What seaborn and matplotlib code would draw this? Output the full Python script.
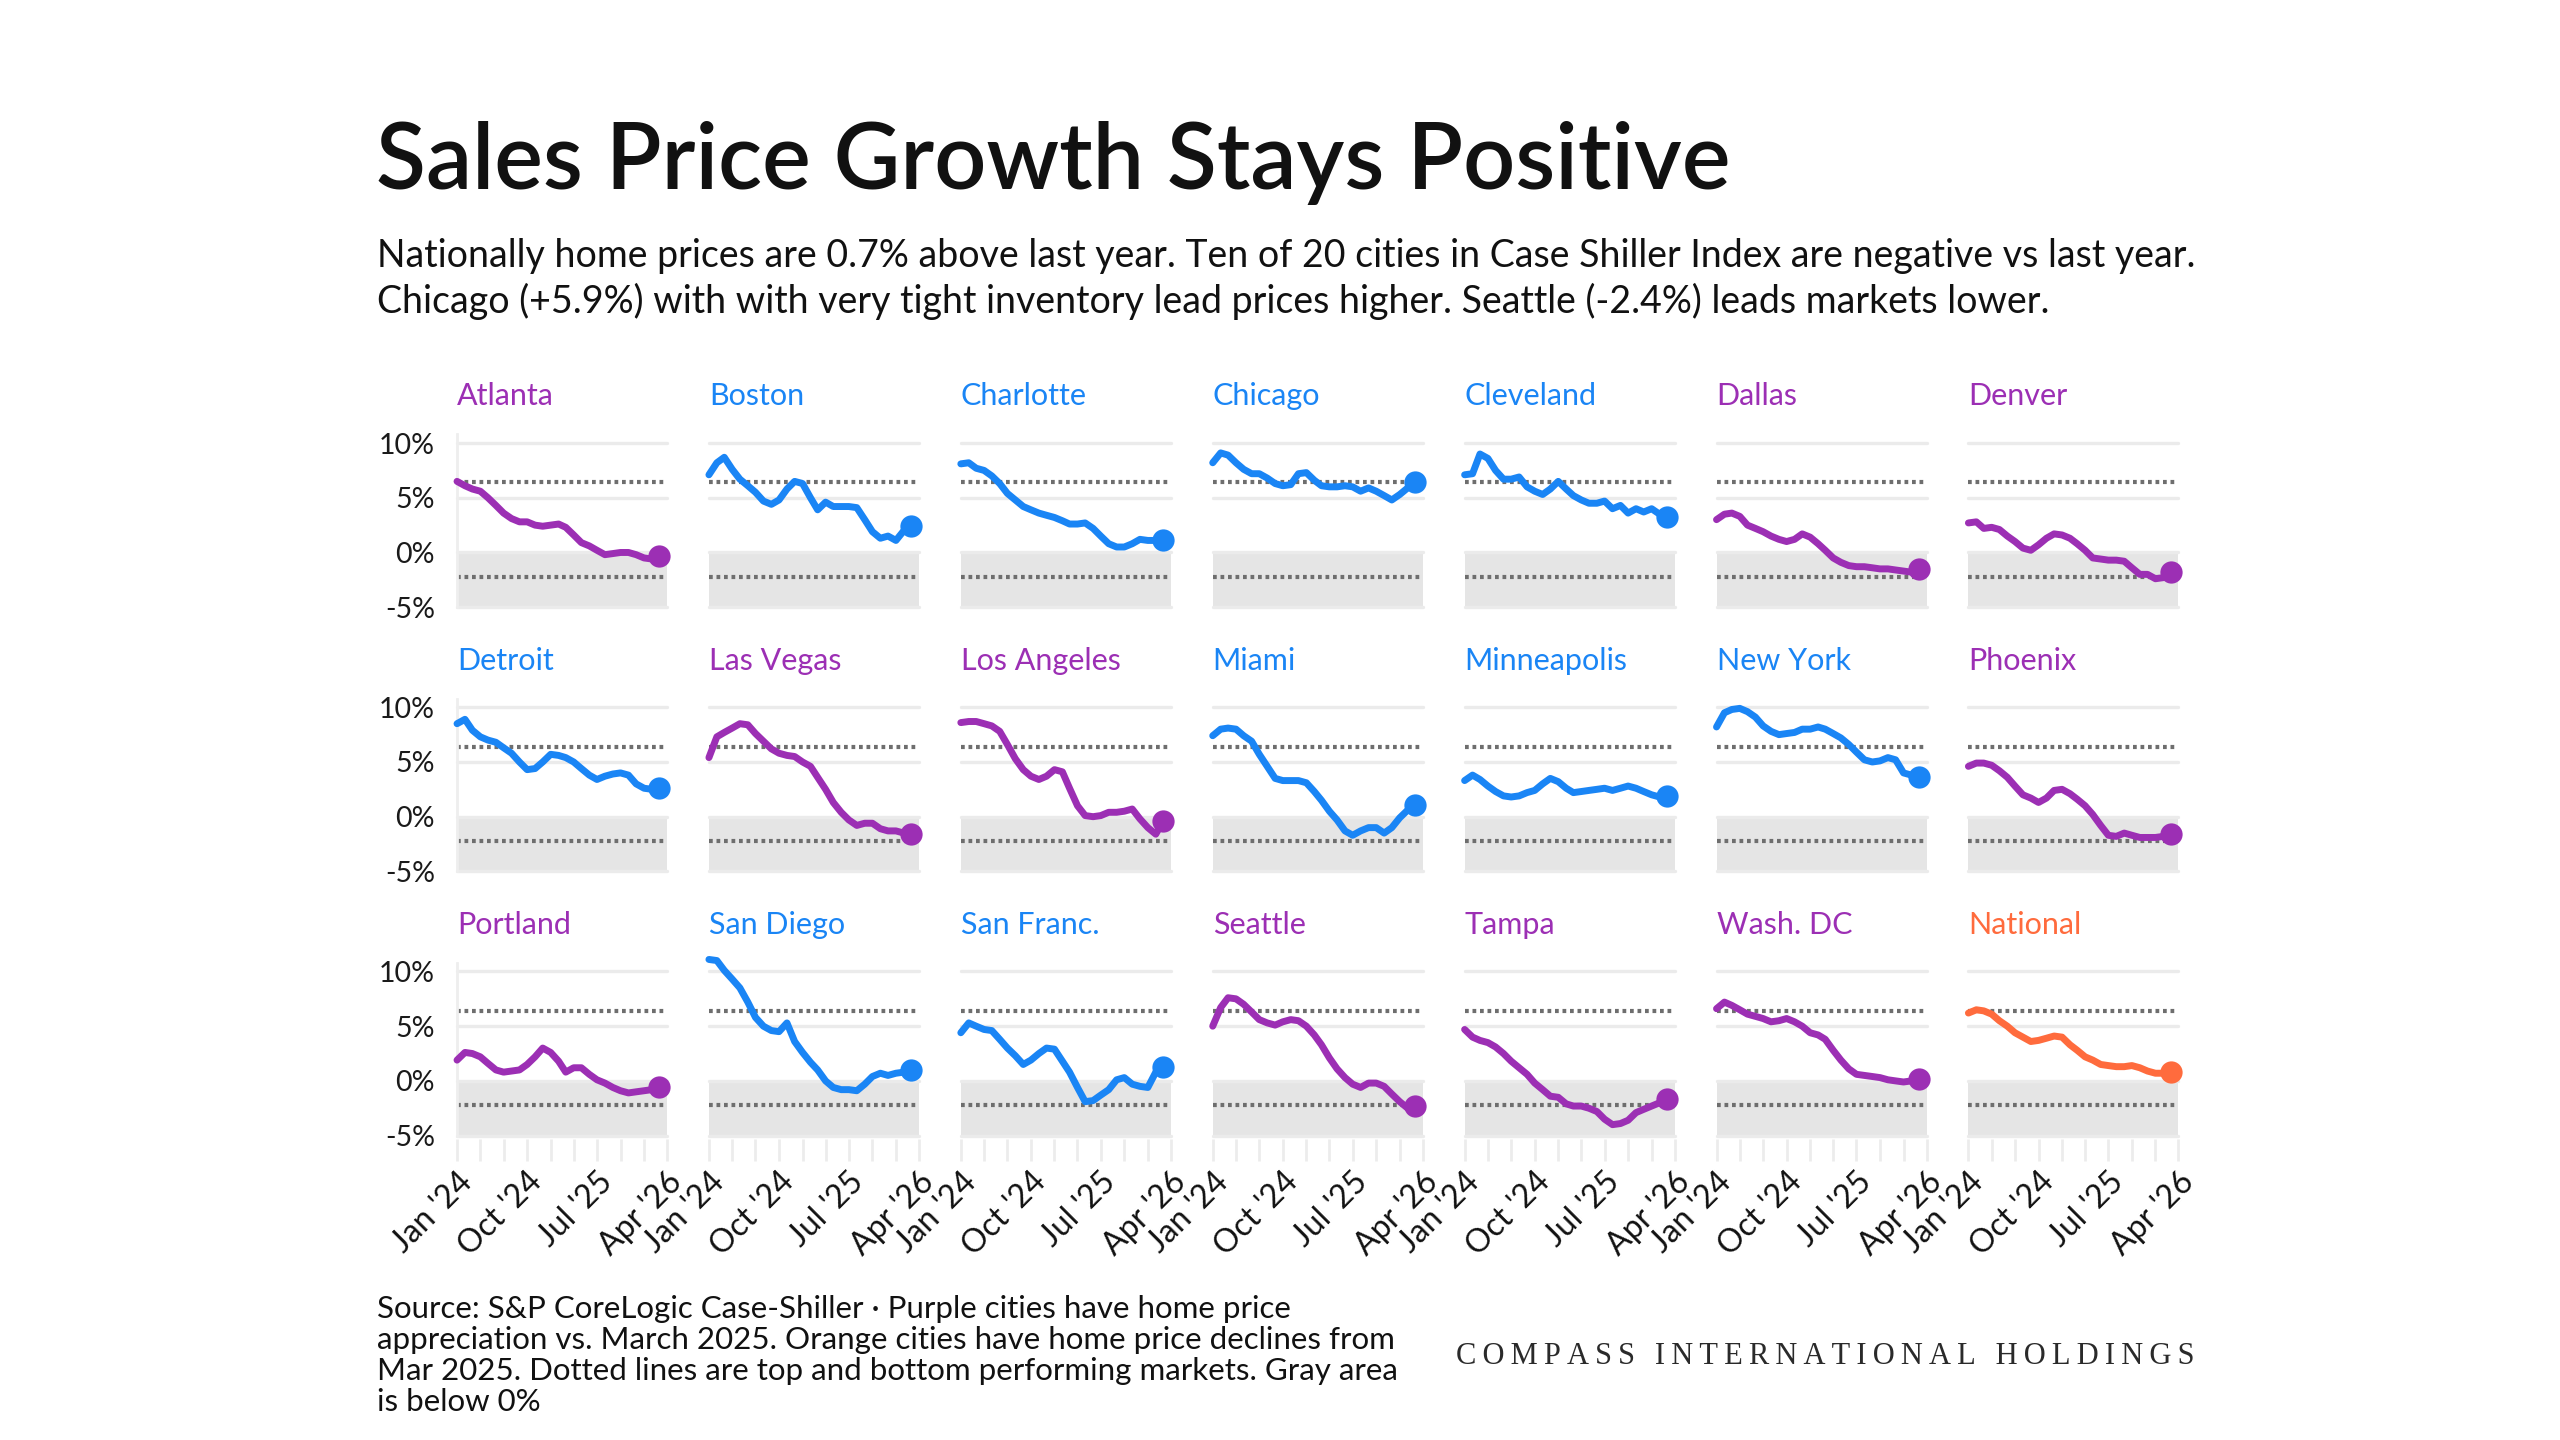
import numpy as np
import pandas as pd
import matplotlib
matplotlib.use("Agg")
import matplotlib.pyplot as plt
import seaborn as sns

# ---------------- data ----------------
months = pd.date_range("2024-01-01", "2026-03-01", freq="MS")  # Jan 2024 .. Mar 2026

cities = ["Atlanta", "Boston", "Charlotte", "Chicago", "Cleveland", "Dallas", "Denver",
          "Detroit", "Las Vegas", "Los Angeles", "Miami", "Minneapolis", "New York", "Phoenix",
          "Portland", "San Diego", "San Franc.", "Seattle", "Tampa", "Wash. DC", "National"]

PURPLE = "#9c2fb4"
BLUE = "#1a85f5"
ORANGE = "#ff6b3d"
city_colors = [PURPLE, BLUE, BLUE, BLUE, BLUE, PURPLE, PURPLE,
               BLUE, PURPLE, PURPLE, BLUE, BLUE, BLUE, PURPLE,
               PURPLE, BLUE, BLUE, PURPLE, PURPLE, PURPLE, ORANGE]

atlanta = [6.5, 6.1, 5.8, 5.6, 5.0, 4.3, 3.6, 3.1, 2.8, 2.8, 2.5, 2.4, 2.5, 2.6, 2.3, 1.6, 0.9, 0.6, 0.2, -0.2, -0.1, 0.0, 0.0, -0.2, -0.5, -0.6, -0.3]
boston = [7.1, 8.2, 8.7, 7.6, 6.7, 6.1, 5.5, 4.7, 4.4, 4.8, 5.8, 6.5, 6.3, 5.0, 3.9, 4.6, 4.2, 4.2, 4.2, 4.1, 3.0, 1.9, 1.3, 1.5, 1.1, 2.0, 2.4]
charlotte = [8.1, 8.2, 7.7, 7.5, 7.0, 6.3, 5.4, 4.8, 4.2, 3.9, 3.6, 3.4, 3.2, 2.9, 2.6, 2.6, 2.7, 2.2, 1.5, 0.8, 0.5, 0.5, 0.8, 1.2, 1.1, 1.1, 1.1]
chicago = [8.2, 9.1, 8.9, 8.2, 7.6, 7.2, 7.2, 6.8, 6.3, 6.1, 6.2, 7.2, 7.3, 6.6, 6.1, 6.0, 6.0, 6.1, 6.0, 5.6, 5.9, 5.6, 5.2, 4.8, 5.3, 5.9, 6.4]
cleveland = [7.1, 7.2, 9.0, 8.6, 7.5, 6.7, 6.7, 6.9, 6.0, 5.6, 5.3, 5.8, 6.5, 5.8, 5.2, 4.8, 4.5, 4.5, 4.7, 4.0, 4.3, 3.6, 4.0, 3.7, 4.0, 3.5, 3.2]
dallas = [3.0, 3.5, 3.6, 3.3, 2.5, 2.2, 1.9, 1.5, 1.2, 1.0, 1.2, 1.7, 1.4, 0.8, 0.2, -0.5, -0.9, -1.2, -1.3, -1.3, -1.4, -1.5, -1.5, -1.6, -1.7, -1.8, -1.5]
denver = [2.7, 2.8, 2.2, 2.3, 2.1, 1.5, 1.0, 0.4, 0.2, 0.7, 1.3, 1.7, 1.6, 1.3, 0.8, 0.2, -0.5, -0.6, -0.7, -0.7, -0.8, -1.4, -2.0, -2.0, -2.4, -2.3, -1.8]
detroit = [8.5, 8.9, 7.9, 7.3, 7.0, 6.8, 6.3, 5.8, 5.0, 4.3, 4.4, 5.0, 5.7, 5.6, 5.4, 5.0, 4.4, 3.8, 3.4, 3.7, 3.9, 4.0, 3.8, 3.0, 2.6, 2.5, 2.6]
las_vegas = [5.4, 7.3, 7.7, 8.1, 8.5, 8.4, 7.6, 6.9, 6.2, 5.8, 5.6, 5.5, 5.0, 4.6, 3.6, 2.5, 1.3, 0.4, -0.3, -0.8, -0.6, -0.6, -1.1, -1.3, -1.3, -1.5, -1.6]
los_angeles = [8.6, 8.7, 8.7, 8.5, 8.3, 7.8, 6.6, 5.3, 4.3, 3.7, 3.4, 3.7, 4.3, 4.1, 2.6, 1.0, 0.1, 0.0, 0.1, 0.4, 0.4, 0.5, 0.7, -0.2, -1.0, -1.6, -0.4]
miami = [7.4, 8.0, 8.1, 8.0, 7.4, 6.9, 5.7, 4.6, 3.5, 3.3, 3.3, 3.3, 3.1, 2.3, 1.5, 0.5, -0.3, -1.3, -1.7, -1.3, -1.0, -1.0, -1.5, -1.0, -0.1, 0.6, 1.1]
minneapolis = [3.3, 3.8, 3.4, 2.8, 2.3, 1.9, 1.8, 1.9, 2.2, 2.4, 3.0, 3.5, 3.2, 2.6, 2.2, 2.3, 2.4, 2.5, 2.6, 2.4, 2.6, 2.8, 2.6, 2.3, 2.0, 1.8, 1.9]
new_york = [8.2, 9.5, 9.8, 9.9, 9.6, 9.1, 8.3, 7.8, 7.5, 7.6, 7.7, 8.0, 8.0, 8.2, 8.0, 7.6, 7.2, 6.6, 5.9, 5.2, 5.0, 5.1, 5.4, 5.2, 4.0, 3.8, 3.6]
phoenix = [4.6, 4.9, 4.9, 4.7, 4.2, 3.6, 2.8, 2.0, 1.7, 1.3, 1.7, 2.4, 2.5, 2.1, 1.6, 1.0, 0.2, -0.8, -1.7, -1.8, -1.5, -1.7, -1.9, -1.9, -1.9, -1.8, -1.6]
portland = [1.9, 2.6, 2.5, 2.2, 1.6, 1.0, 0.8, 0.9, 1.0, 1.5, 2.2, 3.0, 2.6, 1.8, 0.8, 1.2, 1.2, 0.6, 0.1, -0.2, -0.6, -0.9, -1.1, -1.0, -0.9, -0.8, -0.6]
san_diego = [11.1, 11.0, 10.1, 9.3, 8.5, 7.2, 5.8, 5.0, 4.6, 4.5, 5.3, 3.6, 2.6, 1.7, 1.0, 0.0, -0.6, -0.8, -0.8, -0.9, -0.3, 0.4, 0.7, 0.5, 0.7, 0.8, 1.0]
san_francisco = [4.4, 5.3, 5.0, 4.7, 4.6, 3.8, 3.0, 2.3, 1.5, 1.9, 2.5, 3.0, 2.9, 1.8, 0.8, -0.6, -1.9, -1.8, -1.3, -0.8, 0.1, 0.3, -0.3, -0.5, -0.6, 0.8, 1.3]
seattle = [5.0, 6.7, 7.6, 7.5, 7.0, 6.3, 5.6, 5.3, 5.1, 5.4, 5.6, 5.5, 5.0, 4.2, 3.3, 2.1, 1.1, 0.3, -0.3, -0.6, -0.2, -0.2, -0.5, -1.2, -1.9, -2.5, -2.3]
tampa = [4.7, 4.0, 3.7, 3.5, 3.1, 2.5, 1.8, 1.2, 0.6, -0.2, -0.8, -1.4, -1.5, -2.1, -2.3, -2.3, -2.5, -2.8, -3.5, -4.0, -3.9, -3.6, -2.9, -2.6, -2.3, -2.0, -1.7]
wash_dc = [6.6, 7.2, 6.9, 6.5, 6.1, 5.9, 5.7, 5.4, 5.5, 5.7, 5.4, 5.0, 4.4, 4.2, 3.8, 2.8, 1.9, 1.1, 0.6, 0.5, 0.4, 0.3, 0.1, 0.0, -0.1, 0.0, 0.2]
national = [6.2, 6.5, 6.4, 6.1, 5.5, 5.0, 4.4, 4.0, 3.6, 3.7, 3.9, 4.1, 4.0, 3.3, 2.8, 2.2, 1.9, 1.5, 1.4, 1.3, 1.3, 1.4, 1.2, 0.9, 0.7, 0.7, 0.8]

series = [atlanta, boston, charlotte, chicago, cleveland, dallas, denver,
          detroit, las_vegas, los_angeles, miami, minneapolis, new_york, phoenix,
          portland, san_diego, san_francisco, seattle, tampa, wash_dc, national]

top_market = 6.4
bottom_market = -2.2
y_ticks = [10, 5, 0, -5]
y_tick_labels = ["10%", "5%", "0%", "-5%"]
x_tick_labels = ["Jan '24", "Oct '24", "Jul '25", "Apr '26"]

title = "Sales Price Growth Stays Positive"
subtitle_lines = ["Nationally home prices are 0.7% above last year. Ten of 20 cities in Case Shiller Index are negative vs last year.",
                  "Chicago (+5.9%) with with very tight inventory lead prices higher. Seattle (-2.4%) leads markets lower."]
footer_lines = ["Source: S&P CoreLogic Case-Shiller \u00b7 Purple cities have home price",
                "appreciation vs. March 2025. Orange cities have home price declines from",
                "Mar 2025. Dotted lines are top and bottom performing markets. Gray area",
                "is below 0%"]
brand = "COMPASS INTERNATIONAL HOLDINGS"

df = pd.DataFrame({
    "city": np.repeat(cities, len(months)),
    "month": np.tile(months, len(cities)),
    "yoy": np.concatenate([np.array(s, dtype=float) for s in series]),
})

# ---------------- style ----------------
sns.set_theme(style="white")
plt.rcParams["font.family"] = ["Lato", "DejaVu Sans"]

W, H = 1560.0, 877.5          # layout reference units
def fx(x): return x / W
def fy(y): return 1 - y / H

fig = plt.figure(figsize=(25.6, 14.4), dpi=100)
fig.patch.set_facecolor("white")

fig.text(fx(229), fy(115), title, fontsize=66, fontweight="semibold", color="#111111", va="baseline", ha="left")
for k, line in enumerate(subtitle_lines):
    fig.text(fx(230), fy(163 + 28 * k), line, fontsize=27, color="#111111", va="baseline", ha="left")

YLO, YHI = -5.3, 11.3
unit = 100 / 15.0
col_x0, col_pitch, col_w = 278.5, 153.5, 128.0
row_y0, row_pitch = 270.0, 161.0

x_start = pd.Timestamp("2024-01-01")
x_end = pd.Timestamp("2026-04-01")
major = [pd.Timestamp("2024-01-01"), pd.Timestamp("2024-10-01"), pd.Timestamp("2025-07-01"), pd.Timestamp("2026-04-01")]
minor = pd.date_range("2024-01-01", "2026-04-01", freq="3MS")

for i, (city, color) in enumerate(zip(cities, city_colors)):
    r, c = divmod(i, 7)
    left = col_x0 + col_pitch * c
    y10 = row_y0 + row_pitch * r
    top = y10 - (YHI - 10) * unit
    bottom = y10 + (10 - YLO) * unit
    ax = fig.add_axes([fx(left), fy(bottom), col_w / W, (bottom - top) / H])
    ax.set_facecolor("none")

    ax.axhspan(-5, 0, color="#e5e5e5", zorder=0, lw=0)
    for yv in y_ticks:
        ax.axhline(yv, color="#ebebeb", lw=2.4, zorder=0.5)
    ax.axhline(top_market, color="#6e6e6e", lw=3.0, ls=(0, (0.9, 0.9)), zorder=1)
    ax.axhline(bottom_market, color="#6e6e6e", lw=3.0, ls=(0, (0.9, 0.9)), zorder=1)

    sub = df[df["city"] == city]
    sns.lineplot(data=sub, x="month", y="yoy", ax=ax, color=color, lw=5.0, zorder=3, legend=False)
    last = sub.iloc[[-1]]
    sns.scatterplot(data=last, x="month", y="yoy", ax=ax, color=color, s=220, edgecolor=color, zorder=4, legend=False)
    for ln in ax.lines:
        ln.set_clip_on(False)
        ln.set_solid_capstyle("round")
        ln.set_solid_joinstyle("round")
    for coll in ax.collections:
        coll.set_clip_on(False)

    ax.set_xlim(x_start, x_end)
    ax.set_ylim(YLO, YHI)
    ax.set_xlabel("")
    ax.set_ylabel("")
    for s in ax.spines.values():
        s.set_visible(False)

    if c == 0:
        ax.set_yticks(y_ticks)
        ax.set_yticklabels(y_tick_labels)
        ax.tick_params(axis="y", length=10, width=2, color="#eeeeee", pad=6, labelsize=20.5, labelcolor="#1a1a1a")
        ax.spines["left"].set_visible(True)
        ax.spines["left"].set_color("#eeeeee")
        ax.spines["left"].set_linewidth(2)
        ax.spines["left"].set_bounds(-5, 10.8)
    else:
        ax.set_yticks([])

    if r == 2:
        ax.set_xticks(major)
        ax.set_xticklabels(x_tick_labels, rotation=45, ha="right", rotation_mode="anchor")
        ax.set_xticks(minor, minor=True)
        ax.tick_params(axis="x", which="both", length=16, width=2, color="#ececec", pad=4,
                       labelsize=23, labelcolor="#111111", bottom=True, direction="out")
    else:
        ax.set_xticks([])

    fig.text(fx(left), fy(y10 - 23), city, fontsize=22, color=color, va="baseline", ha="left")

for k, line in enumerate(footer_lines):
    fig.text(fx(230), fy(803 + 19 * k), line, fontsize=22.5, color="#111111", va="baseline", ha="left")

brand_spaced = "\u2009".join(list(brand))
fig.text(fx(1337), fy(831), brand_spaced, fontsize=22, color="#2a2a2a", va="baseline", ha="right",
         family=["Liberation Serif", "DejaVu Serif"])

fig.savefig("out.png", dpi=100, facecolor="white")
